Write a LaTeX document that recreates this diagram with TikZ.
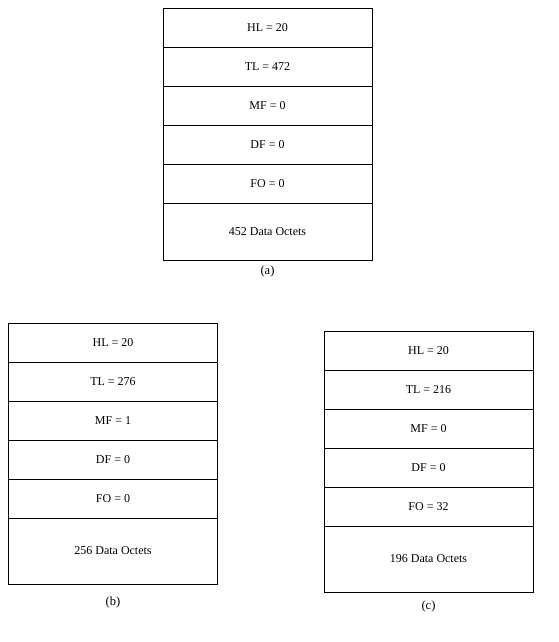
\documentclass[tikz,border=0pt]{standalone}
\usepackage{fontspec}
\setmainfont{Liberation Serif}
\begin{document}
\begin{tikzpicture}[x=1pt,y=-1pt,
  cell/.style={draw=black, line width=0.9pt, minimum width=209pt, minimum height=39pt, inner sep=0pt, font=\fontsize{12}{14}\selectfont},
  datacell/.style={cell},
  caption/.style={font=\fontsize{12.5}{14}\selectfont, inner sep=0pt}]
\useasboundingbox (0,0) rectangle (559,642);
% (a)
\node[cell] (a1) at (267.5,27.5) {HL = 20};
\node[cell] (a2) at (267.5,66.5) {TL = 472};
\node[cell] (a3) at (267.5,105.5) {MF = 0};
\node[cell] (a4) at (267.5,144.5) {DF = 0};
\node[cell] (a5) at (267.5,183.5) {FO = 0};
\node[datacell, minimum height=57pt] (a6) at (267.5,231.5) {452 Data Octets};
\node[caption] (la) at (267.5,271) {(a)};
% (b)
\node[cell] (b1) at (113,342.5) {HL = 20};
\node[cell] (b2) at (113,381.5) {TL = 276};
\node[cell] (b3) at (113,420.5) {MF = 1};
\node[cell] (b4) at (113,459.5) {DF = 0};
\node[cell] (b5) at (113,498.5) {FO = 0};
\node[datacell, minimum height=66pt] (b6) at (113,551) {256 Data Octets};
\node[caption] (lb) at (113,602) {(b)};
% (c)
\node[cell] (c1) at (428.5,350.5) {HL = 20};
\node[cell] (c2) at (428.5,389.5) {TL = 216};
\node[cell] (c3) at (428.5,428.5) {MF = 0};
\node[cell] (c4) at (428.5,467.5) {DF = 0};
\node[cell] (c5) at (428.5,506.5) {FO = 32};
\node[datacell, minimum height=66pt] (c6) at (428.5,559) {196 Data Octets};
\node[caption] (lc) at (428.5,606) {(c)};
\end{tikzpicture}
\end{document}
